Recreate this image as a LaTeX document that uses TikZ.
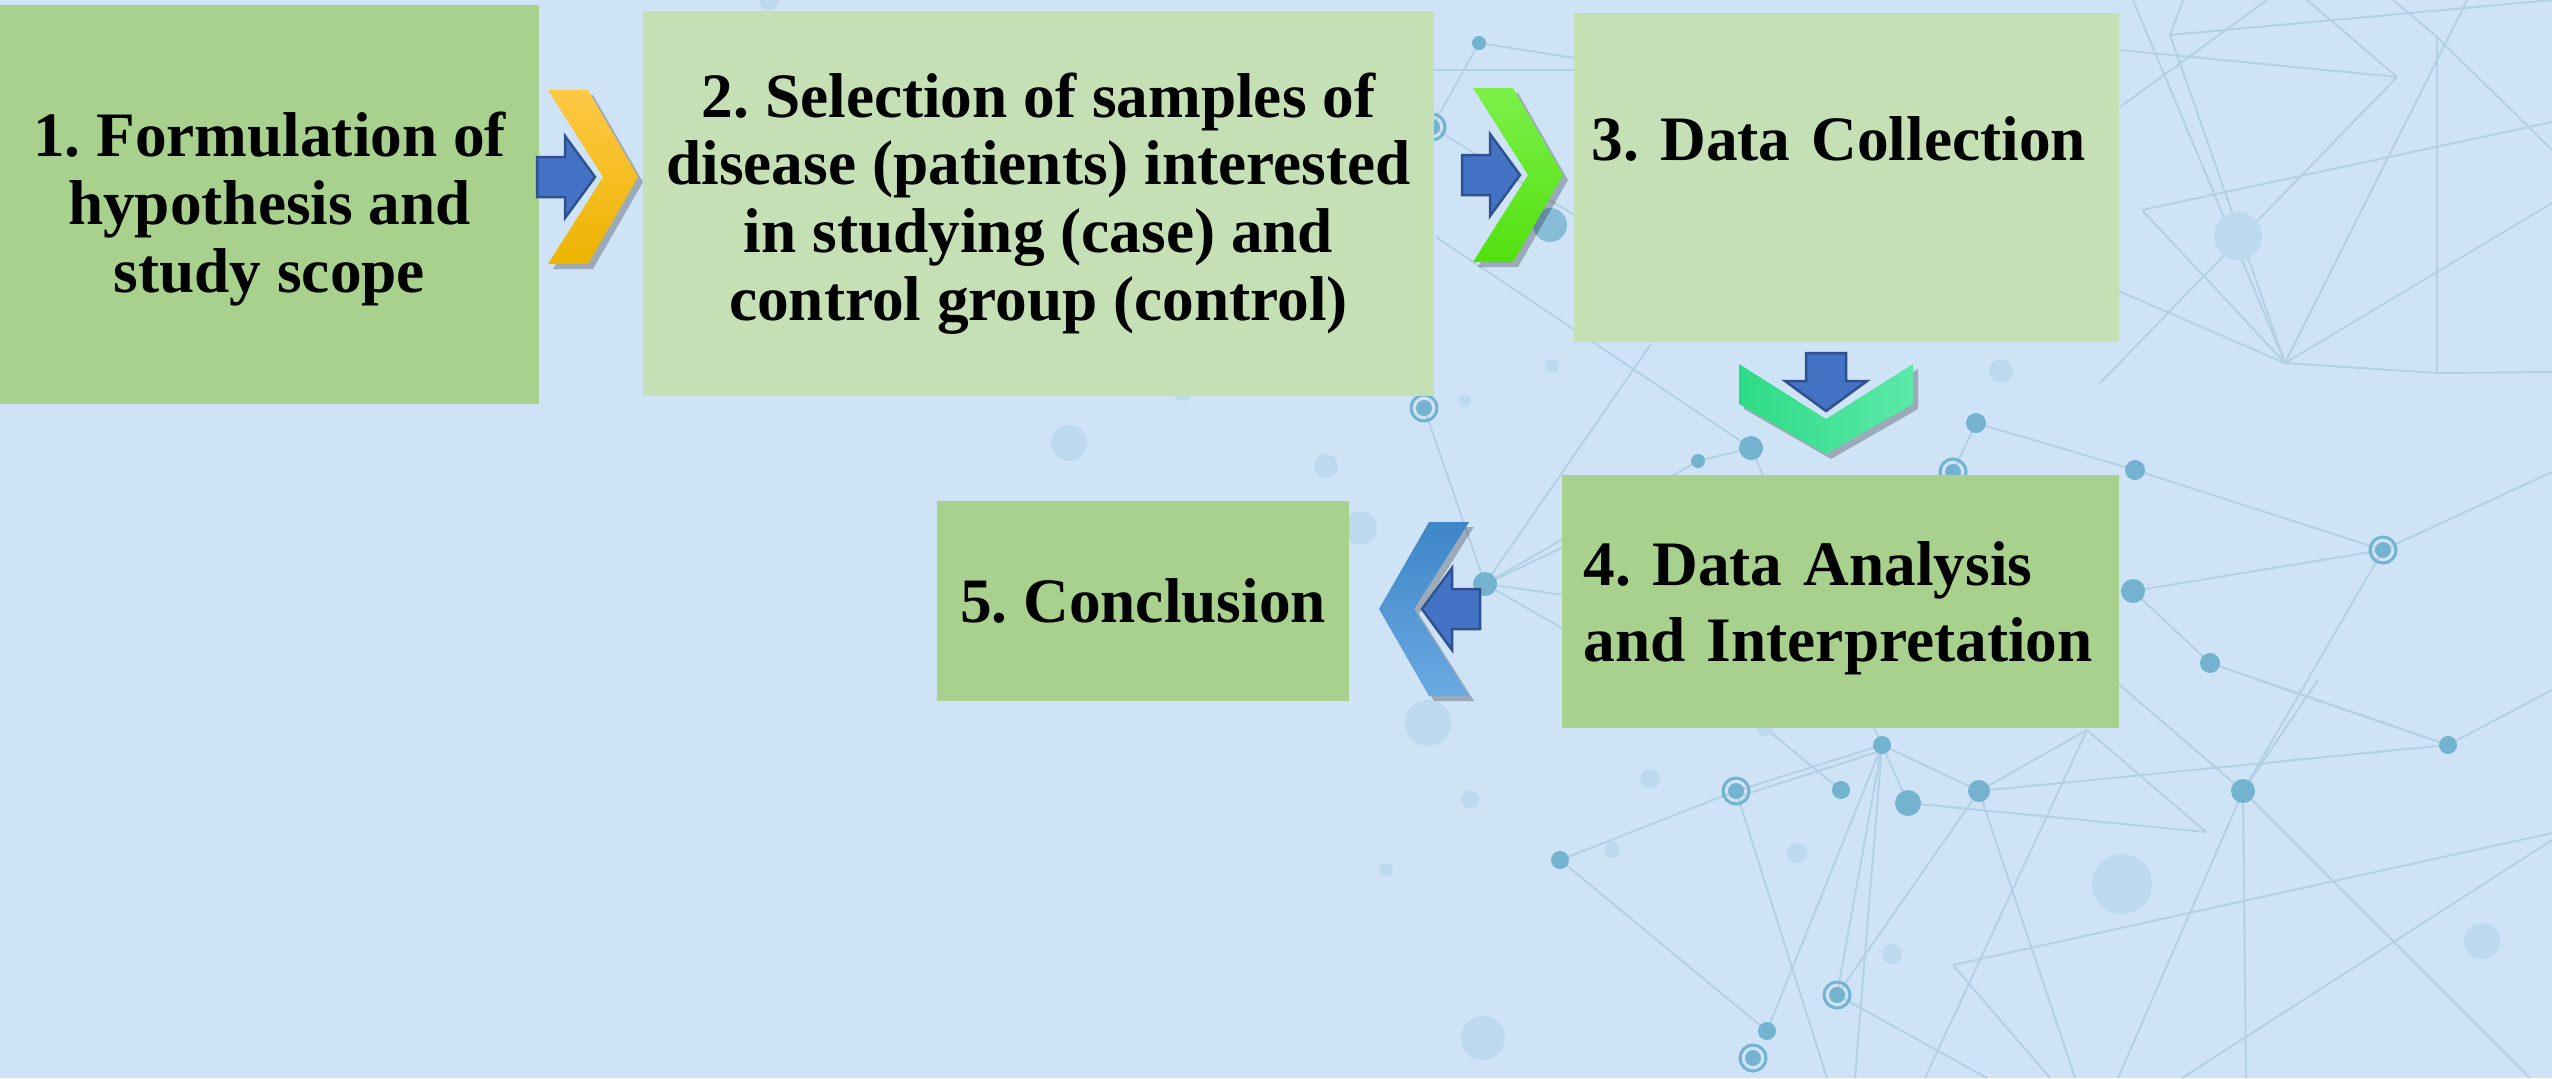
\documentclass[tikz,border=0pt]{standalone}
\usepackage{fontspec}
\setmainfont{Liberation Serif}
\frenchspacing

\definecolor{bgblue}{HTML}{CFE3F6}
\definecolor{lineblue}{HTML}{B3D0E4}
\definecolor{dotblue}{HTML}{74B3CF}
\definecolor{faintblue}{HTML}{BCD9EE}
\definecolor{stepdark}{HTML}{A9D18E}
\definecolor{steplight}{HTML}{C5E0B4}
\definecolor{arrowblue}{HTML}{4472C4}
\definecolor{arrowedge}{HTML}{2F528F}

\tikzset{
  stepbox/.style={rectangle, inner sep=0pt, align=center,
    font=\bfseries\fontsize{18}{19.3}\selectfont},
  netedge/.style={draw=lineblue, line width=0.02cm},
  netdot/.style={fill=dotblue},
  netfaint/.style={fill=faintblue},
  chevshadow/.style={fill=black, opacity=0.25},
  steparrow/.style={fill=arrowblue, draw=arrowedge, line width=0.025cm, line join=miter},
  chevyellow/.style={top color={rgb,255:red,255;green,200;blue,70}, bottom color={rgb,255:red,236;green,180;blue,0}},
  chevgreen/.style={top color={rgb,255:red,124;green,240;blue,74}, bottom color={rgb,255:red,82;green,224;blue,14}},
  chevmint/.style={left color={rgb,255:red,45;green,219;blue,134}, right color={rgb,255:red,92;green,233;blue,169}},
  chevblue/.style={top color={rgb,255:red,61;green,134;blue,200}, bottom color={rgb,255:red,107;green,169;blue,225}}
}

% chevron with its small block arrow: #1 centre, #2 angle, #3 fill style
\newcommand{\stepchevron}[3]{%
  \fill[chevshadow, shift={(#1)}, xshift=0.05cm, yshift=-0.05cm, rotate=#2]
    (-45,-87) -- (-5,-87) -- (45,0) -- (-5,87) -- (-45,87) -- (10,0) -- cycle;
  \path[#3, shift={(#1)}, rotate=#2]
    (-45,-87) -- (-5,-87) -- (45,0) -- (-5,87) -- (-45,87) -- (10,0) -- cycle;
  \filldraw[steparrow, shift={(#1)}, rotate=#2]
    (-56,-20) -- (-28,-20) -- (-28,-41) -- (2,0) -- (-28,41) -- (-28,20) -- (-56,20) -- cycle;
}

\begin{document}
\begin{tikzpicture}[x=0.01cm, y=-0.01cm]
  % Background
  \fill[bgblue] (0,0) rectangle (2552,1078);
  \useasboundingbox (0,0) rectangle (2552,1078);

  % Network lines
  \foreach \xa/\ya/\xb/\yb in {
      1479/43/1432/127, 1479/43/1600/62, 1434/70/1580/70, 1432/127/1574/215,
      1436/237/1751/448, 1424/408/1485/584, 1485/584/1651/344, 1485/584/1698/461,
      1485/584/1600/530, 1485/584/1600/600, 1485/584/1600/650, 1698/461/1751/448,
      1751/448/1882/745, 1976/423/2135/470, 1976/423/1953/472, 2135/470/2383/550,
      2133/591/2383/550, 2383/550/2243/791, 2383/550/2552/472, 2210/663/2448/745,
      2133/591/2210/663, 2448/745/2552/690,
      1882/745/1736/791, 1890/748/1740/796, 1736/791/1560/860, 1560/860/1767/1031,
      1736/791/1827/1078, 1765/728/1841/790, 1882/745/1979/791, 1882/745/1908/803,
      1882/745/1855/1078, 1882/745/1767/1031, 1882/745/1837/995, 1908/803/2206/832,
      1979/791/2448/745, 1979/791/2087/730, 1979/791/2075/1078, 1979/791/1837/995,
      2243/791/2114/680, 2243/791/2246/1078, 2243/791/2118/1078, 2243/791/2530/1078,
      2243/791/2318/680, 2448/745/2258/680, 1953/965/2552/833, 1953/965/2050/1078,
      2552/840/2182/1078, 1837/995/1987/1078, 2087/730/2206/832, 2087/730/1925/1078,
      2133/0/2285/363, 2170/35/2285/363, 2170/35/2552/0, 2170/35/2183/0,
      2120/50/2397/77, 2307/0/2397/77, 2397/77/2100/383, 2437/37/2437/373,
      2437/37/2552/150, 2437/37/2393/0, 2285/363/2100/283, 2285/363/2142/210,
      2285/363/2552/203, 2285/363/2437/373, 2437/373/2552/372, 2142/210/2552/122,
      2267/0/2120/107, 2285/363/2467/0}
    \draw[netedge] (\xa,\ya) -- (\xb,\yb);

  % Faint dots
  \foreach \x/\y/\r in {
      769/0/10, 1069/443/18, 1183/391/10, 1326/466/12, 1465/401/6, 1552/366/7,
      2001/371/12, 2238/236/24, 1650/779/10, 1612/850/8, 1470/799/9, 1386/870/7,
      1797/853/10, 1892/954/10, 2122/884/30, 2482/941/18, 1483/1038/22,
      1428/723/23, 1360/528/17, 1765/728/8}
    \fill[netfaint] (\x,\y) circle[radius=\r*0.01cm];

  % Solid dots
  \fill[netdot, opacity=0.8] (1550,225) circle[radius=0.17cm];
  \foreach \x/\y/\r in {
      1479/43/7, 1698/461/7, 1751/448/12, 1976/423/10, 2135/470/10, 2133/591/12,
      1485/584/12, 2210/663/10, 2448/745/9, 2243/791/12, 1979/791/11, 1908/803/13,
      1841/790/9, 1882/745/9, 1560/860/9, 1767/1031/9}
    \fill[netdot] (\x,\y) circle[radius=\r*0.01cm];

  % Ringed dots
  \foreach \x/\y in {1432/127, 1424/408, 1953/472, 2383/550, 1736/791, 1837/995, 1753/1058} {
    \draw[dotblue, line width=0.03cm] (\x,\y) circle[radius=0.13cm];
    \fill[netdot] (\x,\y) circle[radius=0.08cm];
  }

  % Steps
  \node[stepbox, fill=stepdark, minimum width=5.39cm, minimum height=3.99cm]
    (formulate) at (269.5,204.5) {\rule{0pt}{0.53cm}1. Formulation of\\hypothesis and\\study scope};
  \node[stepbox, fill=steplight, minimum width=7.91cm, minimum height=3.85cm]
    (select) at (1038.5,203.5) {2. Selection of samples of\\disease (patients) interested\\in studying (case) and\\control group (control)};
  \node[stepbox, fill=steplight, align=left, text width=5.09cm, inner xsep=0.18cm,
    text height=1.48cm, text depth=1.81cm]
    (collect) at (1846.5,177.5) {3. Data Collection};
  \node[stepbox, fill=stepdark, align=left, text width=5.13cm, inner xsep=0.22cm,
    minimum height=2.53cm, font=\bfseries\fontsize{18}{21.6}\selectfont]
    (analyse) at (1840.5,601.5) {\rule{0pt}{0.57cm}4. Data Analysis\\and Interpretation};
  \node[stepbox, fill=stepdark, minimum width=4.12cm, minimum height=2cm]
    (conclude) at (1143,601) {5. Conclusion};

  % Chevrons between the steps
  \coordinate (gap12) at (593,177);
  \coordinate (gap23) at (1518,175);
  \coordinate (gap34) at (1826,409);
  \coordinate (gap45) at (1424,609);
  \stepchevron{gap12}{0}{chevyellow}
  \stepchevron{gap23}{0}{chevgreen}
  \stepchevron{gap34}{-90}{chevmint}
  \stepchevron{gap45}{180}{chevblue}
\end{tikzpicture}
\end{document}
